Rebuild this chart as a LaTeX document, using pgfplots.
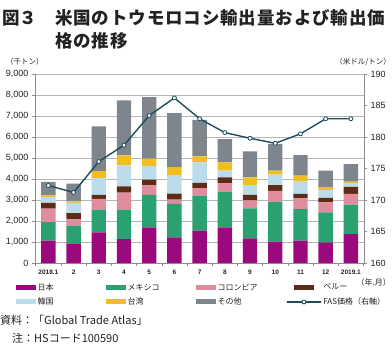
\documentclass[border=0pt]{standalone}
\usepackage{fontspec}
\setmainfont{Liberation Sans}
\newfontfamily\cjk{Noto Sans CJK JP}
\newfontfamily\cjkwide[LetterSpace=5]{Noto Sans CJK JP}
\usepackage{pgfplots}
\usepackage{pgfplotstable}
\pgfplotsset{compat=1.18}
\definecolor{cjp}{HTML}{9B0A7D}
\definecolor{cmx}{HTML}{2BA070}
\definecolor{cco}{HTML}{E08C9C}
\definecolor{cpe}{HTML}{5E2B17}
\definecolor{ckr}{HTML}{BBDCEB}
\definecolor{ctw}{HTML}{F0BE1E}
\definecolor{cot}{HTML}{7E858D}
\definecolor{cline}{HTML}{1E4D5C}
\definecolor{caxis}{HTML}{8C8C8C}
\definecolor{cgrid}{HTML}{B5B5B5}
\definecolor{ctext}{HTML}{222222}
\pgfplotstableread{
x jp mx co pe kr tw ot fas
0 1070 880 640 270 280 80 640 172.3
1 900 880 300 300 480 80 840 171.2
2 1460 1080 510 200 800 320 2140 176.1
3 1140 1400 810 300 1000 480 2620 178.7
4 1700 1550 450 270 660 340 2930 183.4
5 1220 1590 210 280 860 400 2580 186.2
6 1540 1670 350 250 980 290 1730 182.9
7 1700 1700 390 290 320 390 1110 180.7
8 1170 1430 380 260 470 370 1240 179.8
9 1020 1900 510 280 500 190 1270 179.0
10 1060 1510 510 210 580 290 980 180.5
11 980 1430 480 210 380 150 770 182.9
12 1380 1400 510 340 150 90 840 182.9
}\data
\pgfplotsset{
  barleg/.style={legend image code/.code={\fill[##1] (0pt,-2.5pt) rectangle (20pt,2.5pt);}},
  linleg/.style={legend image code/.code={\draw[##1, mark repeat=2, mark phase=2] plot coordinates {(0pt,0pt) (10pt,0pt) (20pt,0pt)};}},
}
\begin{document}
\begin{tikzpicture}[x=1pt,y=1pt]
\path[use as bounding box] (-35,-88) rectangle (357,263);
\begin{axis}[
  at={(0,0)}, anchor=south west, scale only axis,
  width=329pt, height=189pt,
  xmin=-0.53, xmax=12.52, ymin=0, ymax=9000,
  ybar stacked, bar width=0.57,
  axis x line*=bottom, axis y line*=left,
  axis line style={caxis, line width=0.9pt},
  ymajorgrids, grid style={cgrid, line width=0.7pt},
  ytick={0,1000,...,9000},
  scaled y ticks=false,
  /pgf/number format/assume math mode=true,
  /pgf/number format/1000 sep={,},
  yticklabel style={font=\fontsize{9}{9}\selectfont, text=ctext},
  xtick={0,...,12},
  xticklabels={2018.1,2,3,4,5,6,7,8,9,10,11,12,2019.1},
  xticklabel style={font=\fontsize{6.5}{6.5}\selectfont\bfseries, text=ctext},
  major x tick style={draw=none},
  minor xtick={-0.5,0.5,...,12.5},
  tick align=outside, major tick length=3pt, minor tick length=3pt,
  tick style={caxis, line width=0.6pt},
  legend columns=4,
  legend style={at={(-0.058,-0.10)}, anchor=north west, draw=none, fill=none,
    font=\fontsize{8}{8}\selectfont\cjk, inner sep=0pt, row sep=3pt,
    /tikz/every even column/.append style={column sep=0pt},
    nodes={inner sep=1.5pt, text=ctext}},
]
\addplot[fill=cjp, draw=none, barleg] table[x=x,y=jp]{\data};
\addlegendentry{\makebox[67pt][l]{日本}}
\addplot[fill=cmx, draw=none, barleg] table[x=x,y=mx]{\data};
\addlegendentry{\makebox[67pt][l]{メキシコ}}
\addplot[fill=cco, draw=none, barleg] table[x=x,y=co]{\data};
\addlegendentry{\makebox[67pt][l]{コロンビア}}
\addplot[fill=cpe, draw=none, barleg] table[x=x,y=pe]{\data};
\addlegendentry{\makebox[67pt][l]{ペルー}}
\addplot[fill=ckr, draw=none, barleg] table[x=x,y=kr]{\data};
\addlegendentry{\makebox[67pt][l]{韓国}}
\addplot[fill=ctw, draw=none, barleg] table[x=x,y=tw]{\data};
\addlegendentry{\makebox[67pt][l]{台湾}}
\addplot[fill=cot, draw=none, barleg] table[x=x,y=ot]{\data};
\addlegendentry{\makebox[67pt][l]{その他}}
\addlegendimage{cline, line width=1.4pt, mark=*, mark size=2pt, mark options={fill=white, line width=0.8pt}, linleg}
\addlegendentry{\makebox[67pt][l]{FAS価格（右軸）}}
\end{axis}
\begin{axis}[
  at={(0,0)}, anchor=south west, scale only axis,
  width=329pt, height=189pt,
  xmin=-0.53, xmax=12.52, ymin=160, ymax=190,
  axis y line*=right, axis x line=none,
  axis line style={caxis, line width=0.9pt},
  ytick={160,165,...,190},
  /pgf/number format/assume math mode=true,
  yticklabel style={font=\fontsize{9}{9}\selectfont, text=ctext},
  tick align=outside, major tick length=3pt,
  tick style={caxis, line width=0.6pt},
]
\addplot[cline, line width=1.4pt, mark=*, mark size=2pt, mark options={fill=white, line width=0.8pt}] table[x=x,y=fas]{\data};
\end{axis}
\node[anchor=west, text=ctext, font=\fontsize{17.5}{17.5}\selectfont\cjk\bfseries, inner sep=0pt] at (-33,245) {図３};
\node[anchor=west, text=ctext, font=\fontsize{17.5}{17.5}\selectfont\cjkwide\bfseries, inner sep=0pt] at (20,245) {米国のトウモロコシ輸出量および輸出価};
\node[anchor=west, text=ctext, font=\fontsize{17.5}{17.5}\selectfont\cjkwide\bfseries, inner sep=0pt] at (20,222) {格の推移};
\node[anchor=west, text=ctext, font=\fontsize{7.5}{7.5}\selectfont\cjk, inner sep=0pt] at (-29,201) {（千トン）};
\node[anchor=east, text=ctext, font=\fontsize{7.5}{7.5}\selectfont\cjk, inner sep=0pt] at (356,201) {（米ドル/トン）};
\node[anchor=east, text=ctext, font=\fontsize{8}{8}\selectfont\cjk, inner sep=0pt] at (356,-19) {（年.月）};
\node[anchor=west, text=ctext, font=\fontsize{11}{11}\selectfont\cjk, inner sep=0pt] at (-35,-57) {資料：「Global Trade Atlas」};
\node[anchor=west, text=ctext, font=\fontsize{11}{11}\selectfont\cjk, inner sep=0pt] at (-23,-75) {注：HSコード100590};
\end{tikzpicture}
\end{document}
